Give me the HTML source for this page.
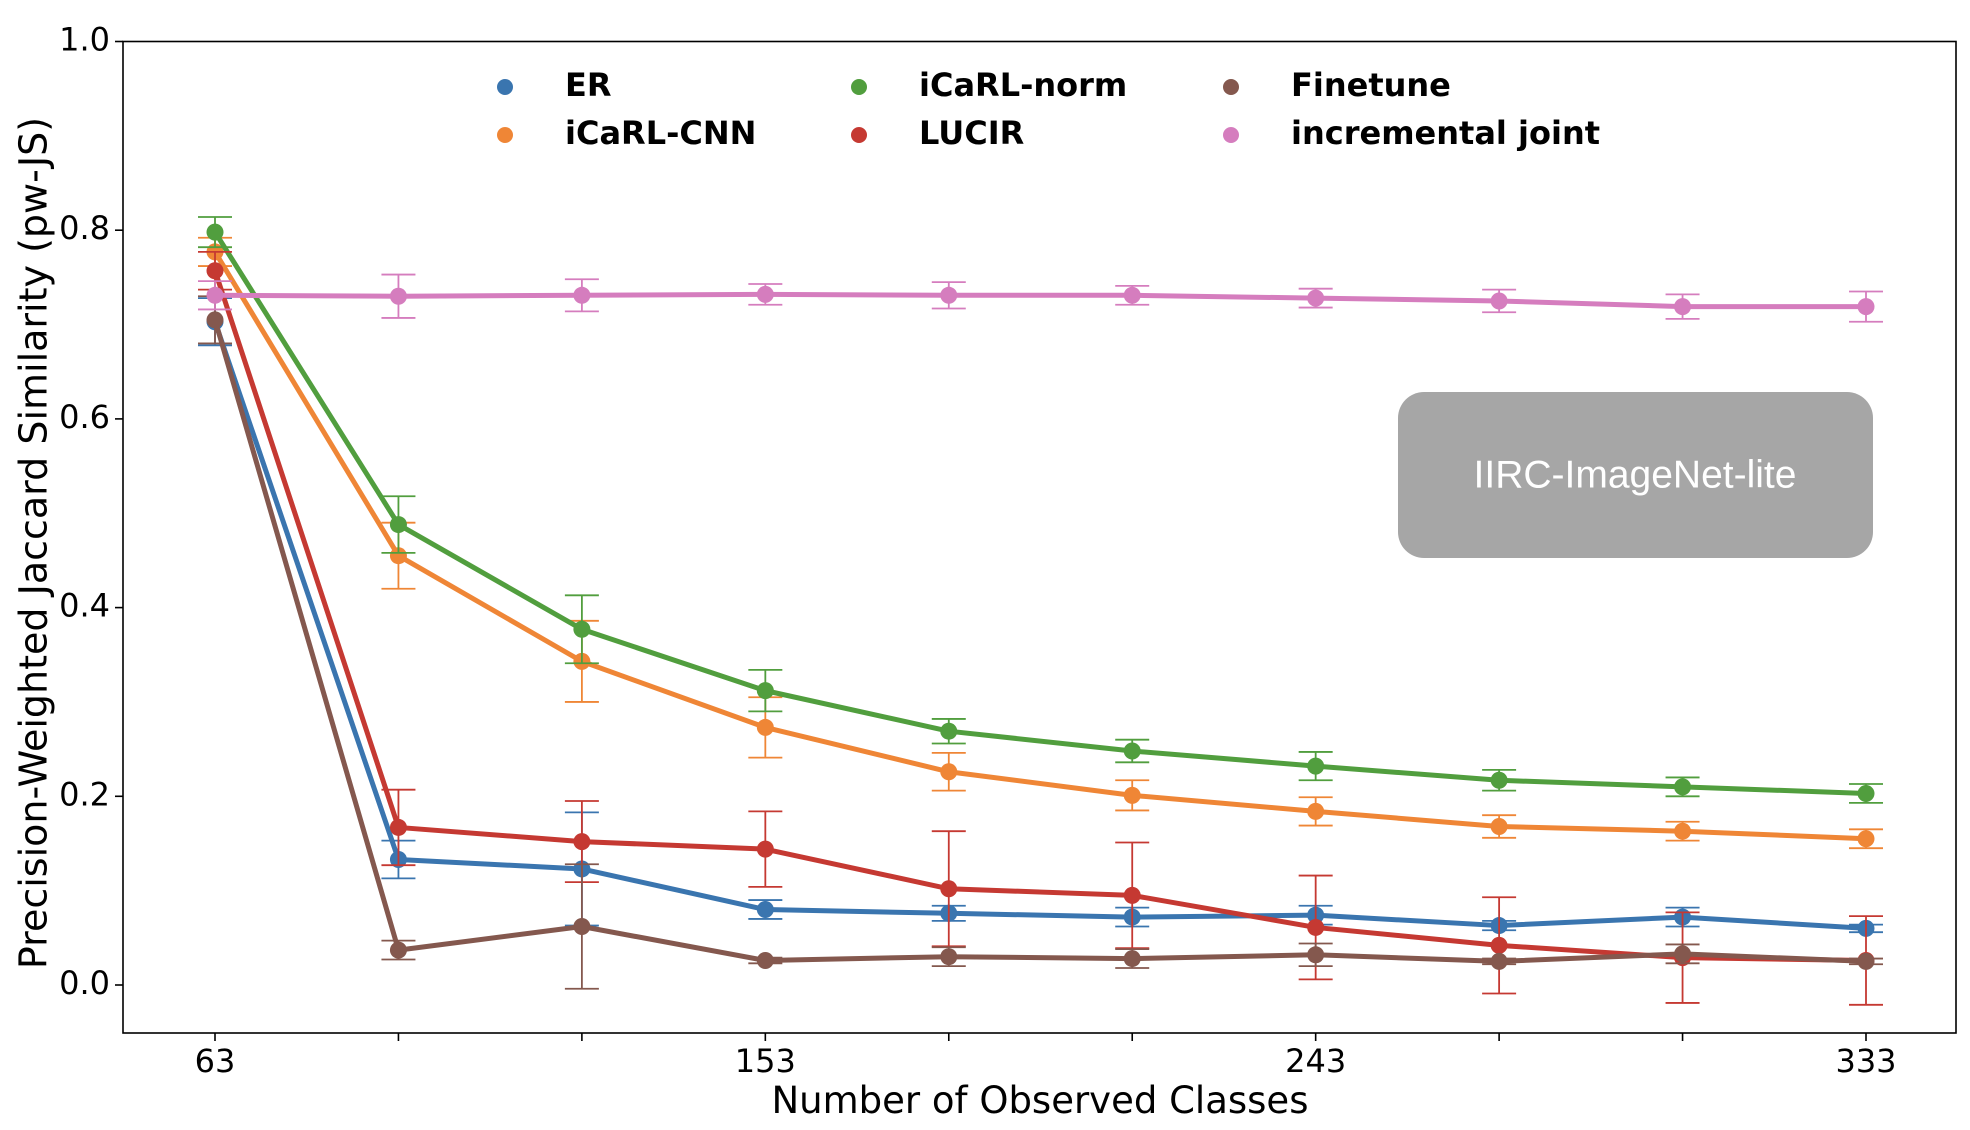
<!DOCTYPE html>
<html><head><meta charset="utf-8"><style>
body{margin:0;background:#fff}
svg{display:block;font-family:"DejaVu Sans","Liberation Sans",sans-serif}
</style></head><body>
<svg id="chart" width="1970" height="1130" viewBox="0 0 1970 1130" xmlns="http://www.w3.org/2000/svg">
<rect x="0" y="0" width="1970" height="1130" fill="#fff"/>
<g id="marks"></g>
<rect x="123" y="41.5" width="1833" height="991.5" fill="none" stroke="#000" stroke-width="1.6"/>
<g id="axes"></g>
<text transform="translate(36,543) rotate(-90)" text-anchor="middle" dominant-baseline="middle" font-size="38">Precision-Weighted Jaccard Similarity (pw-JS)</text>
<text x="1040" y="1113" text-anchor="middle" font-size="37">Number of Observed Classes</text>
<g>
<rect x="1398" y="392" width="475" height="166" rx="26" fill="#a6a6a6"/>
<text x="1635" y="477" text-anchor="middle" dominant-baseline="middle" font-size="39" fill="#fff" font-family="'Liberation Sans',sans-serif">IIRC-ImageNet-lite</text>
</g>
<g id="legend"></g>
</svg>
<script>
const classes=[63,93,123,153,183,213,243,273,303,333];
const seriesNames=["ER","iCaRL-CNN","iCaRL-norm","LUCIR","Finetune","incremental joint"];
const seriesColors=["#3a75af","#ef8636","#519e3e","#c53932","#84584e","#d57dbe"];
const erMean=[0.703,0.133,0.123,0.080,0.076,0.072,0.074,0.063,0.072,0.060];
const erErr=[0.025,0.02,0.06,0.01,0.008,0.01,0.01,0.005,0.01,0.004];
const cnnMean=[0.777,0.455,0.343,0.273,0.226,0.201,0.184,0.168,0.163,0.155];
const cnnErr=[0.015,0.035,0.043,0.032,0.02,0.016,0.015,0.012,0.01,0.01];
const normMean=[0.798,0.488,0.377,0.312,0.269,0.248,0.232,0.217,0.210,0.203];
const normErr=[0.016,0.03,0.036,0.022,0.013,0.012,0.015,0.011,0.01,0.01];
const lucirMean=[0.757,0.167,0.152,0.144,0.102,0.095,0.061,0.042,0.029,0.026];
const lucirErr=[0.02,0.04,0.043,0.04,0.061,0.056,0.055,0.051,0.048,0.047];
const ftMean=[0.705,0.037,0.062,0.026,0.030,0.028,0.032,0.025,0.033,0.025];
const ftErr=[0.025,0.01,0.066,0.003,0.01,0.01,0.012,0.003,0.01,0.003];
const jointMean=[0.731,0.730,0.731,0.732,0.731,0.731,0.728,0.725,0.719,0.719];
const jointErr=[0.015,0.023,0.017,0.011,0.014,0.01,0.01,0.012,0.013,0.016];
const yTicks=[0.0,0.2,0.4,0.6,0.8,1.0];
const xTickLabels=["63","","","153","","","243","","","333"];

const NS="http://www.w3.org/2000/svg";
function xs(v){return 215+(v-63)*(1866-215)/270;}
function ys(v){return 985-v*(985-41.5);}
function mk(tag,attrs,parent){const e=document.createElementNS(NS,tag);for(const k in attrs)e.setAttribute(k,attrs[k]);parent.appendChild(e);return e;}
const marks=document.getElementById('marks');
const axes=document.getElementById('axes');
const legend=document.getElementById('legend');
const means=[erMean,cnnMean,normMean,lucirMean,ftMean,jointMean];
const errs=[erErr,cnnErr,normErr,lucirErr,ftErr,jointErr];
const slugs=["er","icarl-cnn","icarl-norm","lucir","finetune","incremental-joint"];
means.forEach((m,s)=>{
  const g=mk('g',{},marks);
  
  
  const c=seriesColors[s];
  m.forEach((v,i)=>{
    const x=xs(classes[i]),e=errs[s][i];
    const eb=mk('path',{d:`M${x},${ys(v-e)}V${ys(v+e)}M${x-17},${ys(v-e)}H${x+17}M${x-17},${ys(v+e)}H${x+17}`,stroke:c,'stroke-width':1.8,fill:'none'},g);
    
    
  });
  const ln=mk('polyline',{points:m.map((v,i)=>xs(classes[i])+','+ys(v)).join(' '),stroke:c,'stroke-width':5,fill:'none','stroke-linejoin':'round'},g);
  
  
  m.forEach((v,i)=>{
    const p=mk('circle',{cx:xs(classes[i]),cy:ys(v),r:8.5,fill:c},g);
    
    
  });
});
yTicks.forEach(t=>{
  const y=ys(t);
  const l=mk('line',{x1:115,x2:123,y1:y,y2:y,stroke:'#000','stroke-width':1.6},axes);
  
  
  const tx=mk('text',{x:110,y:y,'text-anchor':'end','dominant-baseline':'middle','font-size':32},axes);
  tx.textContent=t.toFixed(1);
  
  
});
classes.forEach((c,i)=>{
  const x=xs(c);
  const l=mk('line',{x1:x,x2:x,y1:1033,y2:1041,stroke:'#000','stroke-width':1.6},axes);
  
  
  if(xTickLabels[i]){
    const tx=mk('text',{x:x,y:1072,'text-anchor':'middle','font-size':32},axes);
    tx.textContent=xTickLabels[i];
    
    
  }
});
const legOrder=[0,2,4,1,3,5];
const legX=[505,859,1231],legY=[87,135];
legOrder.forEach((s,k)=>{
  const col=k%3,row=Math.floor(k/3);
  const g=mk('g',{},legend);
  
  
  mk('circle',{cx:legX[col],cy:legY[row],r:8,fill:seriesColors[s]},g);
  const t=mk('text',{x:legX[col]+60,y:legY[row],'dominant-baseline':'middle','font-size':32,'font-weight':'bold'},g);
  t.textContent=seriesNames[s];
});
</script>
</body></html>
